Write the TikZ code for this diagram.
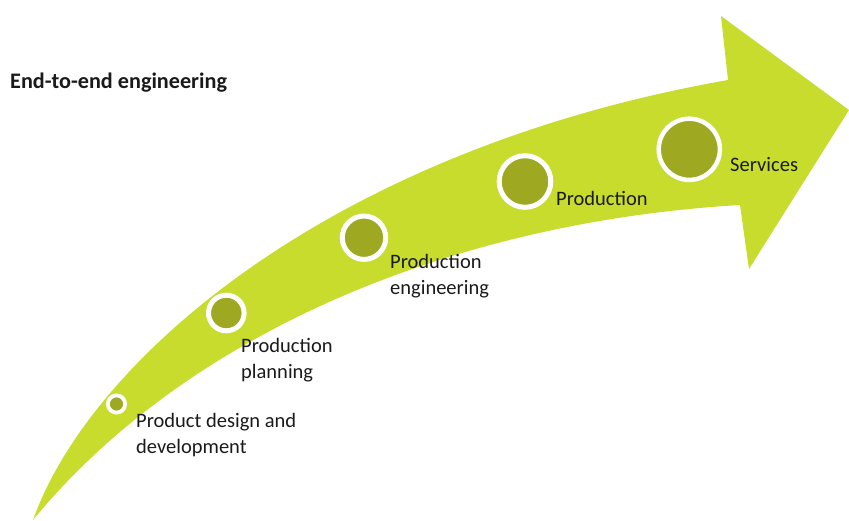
\documentclass[tikz,border=0pt]{standalone}
\usepackage{fontspec}
\setmainfont{Carlito}
\begin{document}
\definecolor{bandgreen}{HTML}{C8DC2D}
\definecolor{stepolive}{HTML}{9EA821}
\definecolor{ink}{HTML}{1A1A1A}
\begin{tikzpicture}[x=1pt,y=-1pt,
  stage/.style={circle,fill=stepolive,draw=white,line width=#1,inner sep=0pt},
  lbl/.style={anchor=north west,inner sep=0pt,align=left,text=ink,
    font=\fontsize{20.5}{26}\selectfont},
]
\useasboundingbox (0,0) rectangle (849,520);
% curved arrow body with triangular head
\fill[bandgreen]
  (33,520) .. controls (90,360) and (330,150) .. (728,80)
  -- (721,16) -- (849,110) -- (749,269) -- (740,205)
  .. controls (450,222) and (185,335) .. cycle;
% stage markers along the arrow
\node[stage=3.8pt,minimum size=17.2pt] (s1) at (116.5,404) {};
\node[stage=5pt,minimum size=35.6pt] (s2) at (226.3,313) {};
\node[stage=5pt,minimum size=43.4pt] (s3) at (364,237.7) {};
\node[stage=5pt,minimum size=51.6pt] (s4) at (525,181.5) {};
\node[stage=4.5pt,minimum size=61.2pt] (s5) at (689.3,149.3) {};
% labels
\node[anchor=west,inner sep=0pt,text=ink,font=\fontsize{22.2}{26}\selectfont\bfseries]
  (title) at (10,83) {End-to-end engineering};
\node[lbl] (t1) at (136,413) {Product design and\\development};
\node[lbl] (t2) at (241,338) {Production\\planning};
\node[lbl] (t3) at (390,254) {Production\\engineering};
\node[lbl] (t4) at (556,191) {Production};
\node[lbl] (t5) at (730,157) {Services};
\end{tikzpicture}
\end{document}
